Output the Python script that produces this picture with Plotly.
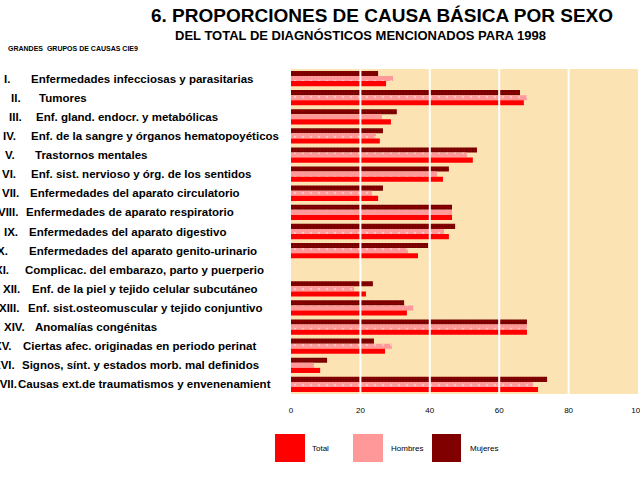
import plotly.graph_objects as go

numerals = ["I.", "II.", "III.", "IV.", "V.", "VI.", "VII.", "VIII.", "IX.", "X.",
            "XI.", "XII.", "XIII.", "XIV.", "XV.", "XVI.", "XVII."]
names = [
    "Enfermedades infecciosas y parasitarias",
    "Tumores",
    "Enf. gland. endocr. y metabólicas",
    "Enf. de la sangre y órganos hematopoyéticos",
    "Trastornos mentales",
    "Enf. sist. nervioso y órg. de los sentidos",
    "Enfermedades del aparato circulatorio",
    "Enfermedades de aparato respiratorio",
    "Enfermedades del aparato digestivo",
    "Enfermedades del aparato genito-urinario",
    "Complicac. del embarazo, parto y puerperio",
    "Enf. de la piel y tejido celular subcutáneo",
    "Enf. sist.osteomuscular y tejido conjuntivo",
    "Anomalías congénitas",
    "Ciertas afec. originadas en periodo perinat",
    "Signos, sínt. y estados morb. mal definidos",
    "Causas ext.de traumatismos y envenenamient",
]
categories = [n + " " + m for n, m in zip(numerals, names)]

total = [27.4, 67.1, 28.8, 25.6, 52.4, 43.8, 25.1, 46.4, 45.5, 36.6,
         None, 21.6, 33.4, 68.0, 27.1, 8.4, 71.2]
hombres = [29.4, 68.0, 26.2, 24.5, 50.7, 42.1, 23.3, 46.4, 44.1, 33.7,
           None, 18.2, 35.2, 68.0, 29.1, 6.6, 69.7]
mujeres = [25.1, 66.0, 30.5, 26.5, 53.6, 45.5, 26.5, 46.4, 47.3, 39.5,
           None, 23.6, 32.6, 68.0, 23.9, 10.4, 73.8]

series_names = ["Total", "Hombres", "Mujeres"]
tick_vals = [0, 20, 40, 60, 80, 100]
tick_text = ["0", "20", "40", "60", "80", "100"]

title = "6. PROPORCIONES DE CAUSA BÁSICA POR SEXO"
subtitle = "DEL TOTAL DE DIAGNÓSTICOS MENCIONADOS PARA 1998"
group_label = "GRANDES  GRUPOS DE CAUSAS CIE9"

# ---- layout geometry (pixels) ----
W, H = 640, 480
L, R, T, B = 291, 638, 69, 394
def px(xp):
    return (xp - L) / (R - L)
def py(yp):
    return (B - yp) / (B - T)

numeral_x = [2, 9, 7, 1, 3, 0, 0, -4, 2, -5, -7, 1, -3, 2, -8, -9, -10]
name_x = [29, 37, 34, 29, 33, 29, 28, 24, 27, 27, 23, 30, 26, 33, 21, 20, 16]

colors = {"Total": "#FF0000", "Hombres": "#FF9999", "Mujeres": "#800000"}
patterns = {
    "Total": dict(shape=""),
    "Hombres": dict(shape=".", fgcolor="#FFE8E8", bgcolor="#FF9999", size=8, solidity=0.08),
    "Mujeres": dict(shape=".", fgcolor="#3A0000", bgcolor="#8A0000", size=3, solidity=0.3),
}
values = {"Total": total, "Hombres": hombres, "Mujeres": mujeres}

fig = go.Figure()
for s in ["Mujeres", "Hombres", "Total"]:
    fig.add_trace(go.Bar(
        y=categories, x=values[s], orientation="h", name=s,
        marker=dict(color=colors[s], line=dict(width=0), pattern=patterns[s]),
        showlegend=False,
    ))

lab_font = dict(family="Liberation Sans, Arial", size=11.5, color="black", weight="bold")
annotations = []
for c, n, m, nx, mx in zip(categories, numerals, names, numeral_x, name_x):
    annotations.append(dict(text=n, x=px(nx), xref="paper", y=c, yref="y",
                            xanchor="left", yanchor="middle", showarrow=False,
                            font=lab_font))
    annotations.append(dict(text=m, x=px(mx), xref="paper", y=c, yref="y",
                            xanchor="left", yanchor="middle", showarrow=False,
                            font=lab_font))

annotations.append(dict(text=title, x=px(382), y=py(15), xref="paper", yref="paper",
                        xanchor="center", yanchor="middle", showarrow=False,
                        font=dict(family="Liberation Sans, Arial",
                                  size=19, color="black", weight="bold")))
annotations.append(dict(text=subtitle, x=px(360), y=py(35), xref="paper", yref="paper",
                        xanchor="center", yanchor="middle", showarrow=False,
                        font=dict(family="Liberation Sans, Arial",
                                  size=13, color="black", weight="bold")))
annotations.append(dict(text=group_label, x=px(6), y=py(48), xref="paper", yref="paper",
                        xanchor="left", yanchor="middle", showarrow=False,
                        font=dict(family="Liberation Sans, Arial", size=7, color="black",
                                  weight="bold")))

shapes = []
for g in tick_vals[1:-1]:
    shapes.append(dict(type="line", x0=g, x1=g, xref="x", y0=0, y1=1, yref="paper",
                       line=dict(color="white", width=2), layer="above"))

legend_boxes = {"Total": (275, 305, 310), "Hombres": (353, 383, 389), "Mujeres": (432, 461, 468)}
for s in series_names:
    x0, x1, tx = legend_boxes[s]
    shapes.append(dict(type="rect", xref="paper", yref="paper",
                       x0=px(x0), x1=px(x1), y0=py(462), y1=py(434),
                       fillcolor=colors[s], line=dict(width=0), layer="above"))
    annotations.append(dict(text=s, x=px(tx), y=py(448), xref="paper", yref="paper",
                            xanchor="left", yanchor="middle", showarrow=False,
                            font=dict(family="Liberation Sans, Arial", size=8, color="black")))

fig.update_layout(
    width=W, height=H,
    margin=dict(l=L, r=W - R, t=T, b=H - B, pad=0, autoexpand=False),
    paper_bgcolor="white", plot_bgcolor="#FCE3B3",
    barmode="group", bargap=0.2, bargroupgap=0,
    annotations=annotations, shapes=shapes, showlegend=False,
    xaxis=dict(range=[0, 100], tickvals=tick_vals, ticktext=tick_text,
               showgrid=False, zeroline=False, showline=False, ticks="",
               automargin=False,
               ticklabelstandoff=10, ticklabeloverflow="allow",
               tickfont=dict(family="Liberation Sans, Arial", size=8, color="black")),
    yaxis=dict(autorange="reversed", showticklabels=False, showgrid=False,
               zeroline=False, showline=False, ticks="", automargin=False),
)

fig.write_html("out.html", config={"displayModeBar": False},
               post_script="document.body.style.margin='0';document.body.style.overflow='hidden';")
